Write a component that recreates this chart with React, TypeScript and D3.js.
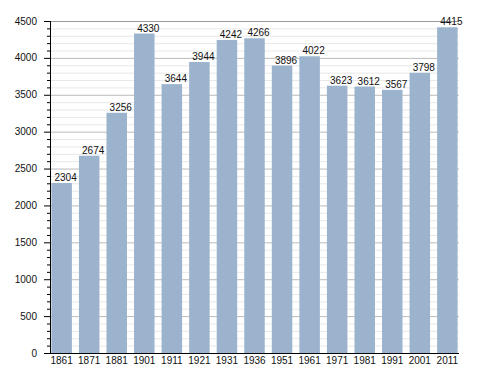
import React from "react";
import * as d3 from "d3";

const years = ["1861","1871","1881","1901","1911","1921","1931","1936","1951","1961","1971","1981","1991","2001","2011"];
const population = [2304,2674,3256,4330,3644,3944,4242,4266,3896,4022,3623,3612,3567,3798,4415];
const majorTicks = [0,500,1000,1500,2000,2500,3000,3500,4000,4500];
const minorTicks = d3.range(0, 4501, 100);

export default function App() {
  const W = 488, H = 373;
  const left = 50, right = 459, top = 21, bottom = 353;
  const x = d3.scaleBand<string>().domain(years).range([left, right]).paddingInner(0.256).paddingOuter(0.05);
  const y = d3.scaleLinear().domain([0, 4500]).range([bottom, top]);
  const font = "'Liberation Sans', Arial, sans-serif";
  return (
    <svg width={W} height={H} style={{ position: "absolute", left: 0, top: 0, background: "#fff" }}>
      {minorTicks.filter(v => v % 500 !== 0).map(v => (
        <line key={"g" + v} x1={left} x2={right} y1={y(v) + 0.5} y2={y(v) + 0.5} stroke="#e8e8e8" strokeWidth={1} />
      ))}
      {majorTicks.filter(v => v > 0).map(v => (
        <line key={"G" + v} x1={left} x2={right} y1={y(v) + 0.5} y2={y(v) + 0.5} stroke={v === 4500 ? "#999" : "#bbb"} strokeWidth={1} />
      ))}
      {years.map((yr, i) => (
        <rect key={yr} x={x(yr)} y={y(population[i])} width={x.bandwidth()} height={bottom - y(population[i])} fill="#9bb3cd" />
      ))}
      {years.map((yr, i) => (
        <text key={"v" + yr} x={(x(yr) as number) + x.bandwidth() / 2 + 4} y={y(population[i]) - 2} textAnchor="middle" fontFamily={font} fontSize={10} fill="#111">{population[i]}</text>
      ))}
      {minorTicks.map(v => (
        <line key={"t" + v} x1={v % 500 === 0 ? 44 : 47} x2={left} y1={y(v) + 0.5} y2={y(v) + 0.5} stroke="#000" strokeWidth={1} />
      ))}
      <line x1={left + 0.5} x2={left + 0.5} y1={top} y2={bottom + 1} stroke="#000" strokeWidth={1} />
      <line x1={left} x2={right} y1={bottom + 0.5} y2={bottom + 0.5} stroke="#000" strokeWidth={1} />
      {majorTicks.map(v => (
        <text key={"l" + v} x={37} y={y(v) + 3.5} textAnchor="end" fontFamily={font} fontSize={10} fill="#111">{v}</text>
      ))}
      {years.map(yr => (
        <text key={"x" + yr} x={(x(yr) as number) + x.bandwidth() / 2} y={364} textAnchor="middle" fontFamily={font} fontSize={10} fill="#111">{yr}</text>
      ))}
    </svg>
  );
}
